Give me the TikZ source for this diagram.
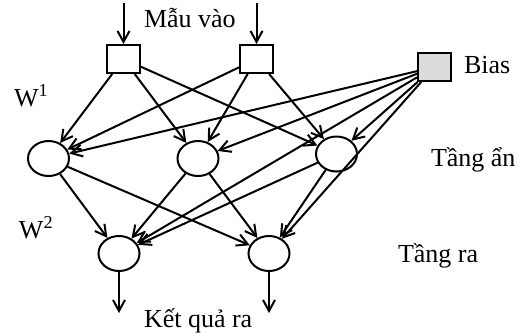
\documentclass[tikz,border=0pt]{standalone}
\usepackage{fontspec}
\setmainfont{Liberation Serif}
\usetikzlibrary{arrows.meta,shapes.geometric}
\begin{document}
\begin{tikzpicture}[x=1pt,y=-1pt,
  line width=2pt,
  arr/.style={-{Straight Barb[length=11pt,width=12pt,line width=2pt]}},
  inbox/.style={draw,rectangle,minimum width=33pt,minimum height=28pt,inner sep=0pt},
  biasbox/.style={inbox,fill=black!14},
  neuron/.style={draw,ellipse,minimum width=41pt,minimum height=35pt,inner sep=0pt},
  lbl/.style={font=\fontsize{26}{26}\selectfont,inner sep=0pt,anchor=base west}]
\useasboundingbox (0,0) rectangle (517,333);
\node[inbox] (in1) at (123.5,59) {};
\node[inbox] (in2) at (256.5,59) {};
\node[biasbox] (bias) at (434.5,67) {};
\node[neuron] (h1) at (48.5,158.5) {};
\node[neuron] (h2) at (198,158.5) {};
\node[neuron] (h3) at (336.5,154) {};
\node[neuron] (o1) at (119,253.5) {};
\node[neuron] (o2) at (269,253.5) {};
\coordinate (t1) at (123.5,3);
\coordinate (t2) at (256.5,3);
\coordinate (b1) at (119,313);
\coordinate (b2) at (269,313);
\node[lbl] (lin) at (143,27) {Mẫu vào};
\node[lbl] (lbias) at (463,73) {Bias};
\node[lbl] (lhid) at (430,166) {Tầng ẩn};
\node[lbl] (lout) at (397,262) {Tầng ra};
\node[lbl] (lres) at (143,327) {Kết quả ra};
\node[lbl] (lw1) at (13,106) {W\textsuperscript{1}};
\node[lbl] (lw2) at (18,238) {W\textsuperscript{2}};
\draw[arr] (t1) -- (in1);
\draw[arr] (t2) -- (in2);
\foreach \s in {in1,in2,bias}{
  \foreach \t in {h1,h2,h3}{
    \draw[arr] (\s) -- (\t);
  }
}
\foreach \s in {h1,h2,h3,bias}{
  \foreach \t in {o1,o2}{
    \draw[arr] (\s) -- (\t);
  }
}
\draw[arr] (o1) -- (b1);
\draw[arr] (o2) -- (b2);
\end{tikzpicture}
\end{document}
